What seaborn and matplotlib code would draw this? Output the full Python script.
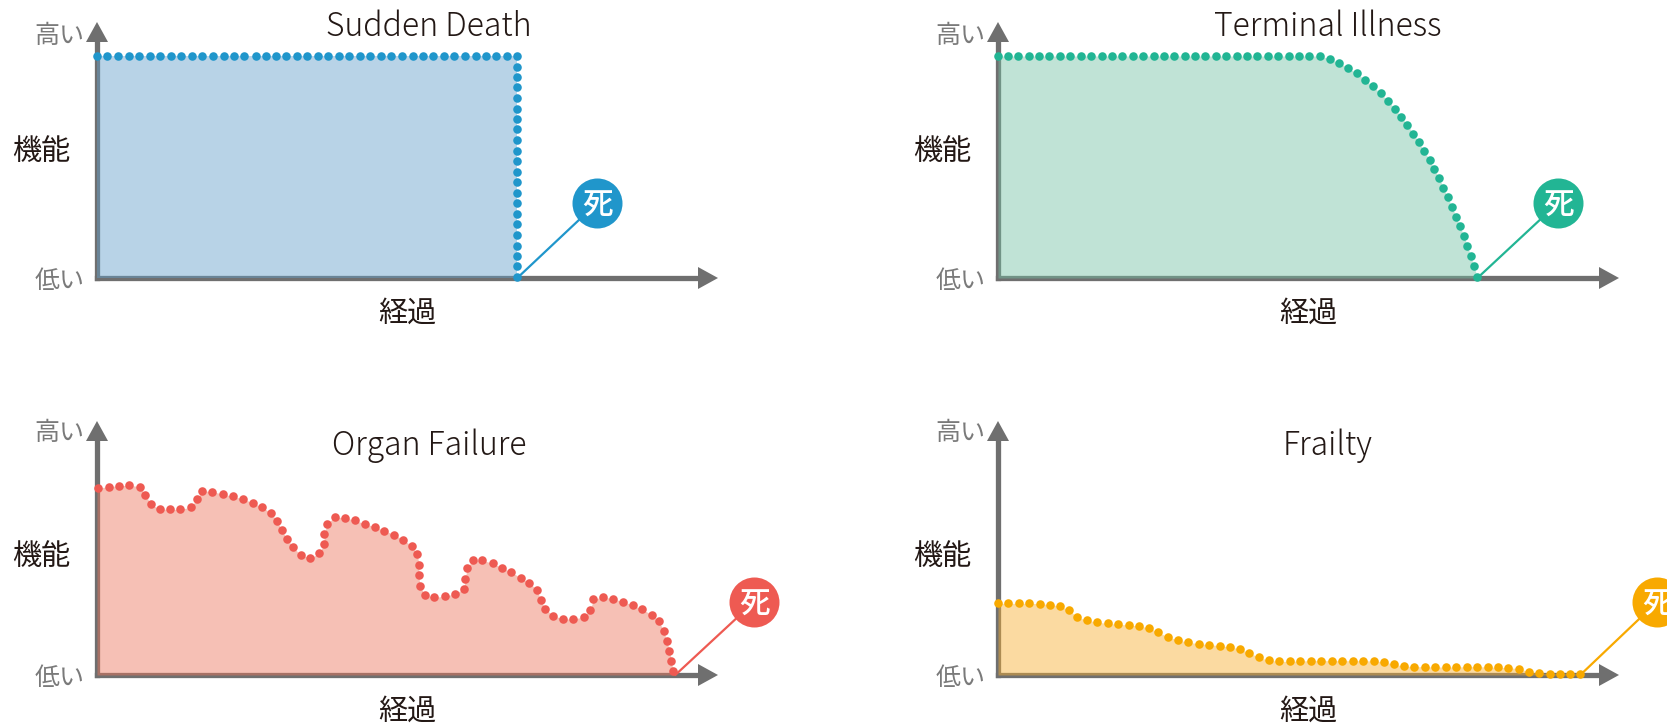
"""Four illness trajectories: function over time up to death."""
import matplotlib
matplotlib.use("Agg")
import matplotlib.pyplot as plt
import numpy as np
import pandas as pd
import seaborn as sns

TITLES = ["Sudden Death", "Terminal Illness", "Organ Failure", "Frailty"]
Y_TICK_LABELS = ["低い", "高い"]
Y_LABEL = "機能"
X_LABEL = "経過"
DEATH_LABEL = "死"

# readings: time along the axis, function above the baseline
SUDDEN_T = [0, 21, 43, 65, 87, 109, 130, 152, 174, 196, 217, 239, 261, 282, 304, 327, 348, 369, 390, 412,
            433, 455, 477, 499, 520, 542, 564, 585, 607, 629, 651, 672, 694, 716, 737, 759, 781, 803, 824, 846,
            867, 867, 867, 867, 867, 867, 867, 867, 867, 867, 867, 867, 867, 867, 867, 867, 867, 867, 867, 867,
            867, 867]
SUDDEN_F = [666] * 41 + [634, 603, 572, 540, 507, 476, 446, 415, 382, 351, 319, 287, 255, 225, 193, 161, 129,
                         97, 66, 35, 3]

TERMINAL_T = [0, 20, 41, 63, 84, 105, 127, 148, 169, 191, 212, 233, 254, 276, 297, 318, 339, 360, 382, 403,
              424, 445, 466, 488, 509, 530, 551, 573, 594, 615, 636, 658, 678, 697, 715, 733, 750, 766, 782, 797,
              811, 824, 837, 849, 860, 871, 882, 892, 902, 910, 919, 928, 936, 944, 952, 959, 966, 972, 980]
TERMINAL_F = [666] * 32 + [657, 646, 631, 614, 595, 575, 554, 531, 508, 483, 458, 433, 407, 381, 354, 326, 299,
                           271, 242, 213, 184, 155, 127, 97, 67, 37, 2]

ORGAN_T = [3, 24, 46, 67, 88, 100, 111, 129, 151, 172, 193, 206, 217, 237, 259, 280, 301, 321, 340, 358,
           371, 381, 392, 405, 420, 440, 459, 468, 469, 475, 490, 511, 532, 553, 573, 593, 613, 632, 649, 661,
           664, 664, 666, 676, 696, 717, 739, 757, 760, 763, 775, 795, 816, 836, 855, 874, 892, 908, 915, 925,
           941, 962, 983, 1004, 1018, 1024, 1043, 1064, 1085, 1105, 1125, 1144, 1159, 1169, 1175, 1181, 1185, 1188]
ORGAN_F = [561, 565, 568, 569, 565, 540, 512, 498, 497, 497, 503, 527, 553, 550, 543, 536, 528, 517, 504, 487,
           463, 435, 408, 383, 360, 351, 365, 393, 424, 454, 474, 472, 464, 453, 445, 433, 421, 406, 387, 362,
           330, 299, 268, 240, 233, 236, 244, 259, 289, 320, 344, 344, 335, 322, 308, 292, 276, 255, 225, 198,
           178, 168, 168, 174, 196, 227, 234, 229, 220, 210, 197, 181, 161, 133, 103, 73, 42, 12]

FRAILTY_T = [0, 20, 42, 64, 85, 107, 127, 146, 162, 181, 203, 224, 246, 267, 288, 309, 328, 347, 368, 389,
             410, 432, 453, 474, 495, 514, 533, 553, 575, 596, 618, 639, 660, 682, 703, 725, 746, 768, 788, 809,
             830, 851, 872, 894, 915, 937, 958, 979, 1001, 1022, 1043, 1064, 1085, 1105, 1128, 1148, 1170, 1190]
FRAILTY_F = [215, 215, 215, 215, 214, 211, 207, 194, 173, 165, 158, 155, 152, 150, 147, 141, 128, 114, 105, 98,
             94, 91, 88, 84, 78, 66, 53, 44, 41, 41, 42, 43, 43, 43, 43, 43, 43, 42, 40, 32,
             27, 25, 25, 24, 24, 24, 25, 25, 24, 23, 22, 19, 10, 6, 4, 4, 4, 4]

SERIES_T = [SUDDEN_T, TERMINAL_T, ORGAN_T, FRAILTY_T]
SERIES_F = [SUDDEN_F, TERMINAL_F, ORGAN_F, FRAILTY_F]
DEATH_T = [867, 980, 1193, 1193]
DEATH_F = [0, 0, 0, 4]

DOT_COLORS = ["#2096cb", "#22b594", "#ee5a52", "#f8a900"]
# drawn at alpha .45 so the axis shows through darker under the fill
FILL_COLORS = ["#639fca", "#75c1a4", "#ed755b", "#f8af30"]
GRAY = "#6f6f6f"
INK = "#231815"

FIG_W, FIG_H = 1667, 724
AXIS_LEFT = [97, 998, 97, 998]
AXIS_BASE = [278, 278, 675, 675]
AXIS_W = 621
AXIS_H = [256, 256, 254, 254]
X_UNITS = [2.063, 2.044, 2.063, 2.044]  # time units per pixel
Y_UNITS = 3.0
BADGE_X = [597, 1558, 754, 1657]
BADGE_Y = [203, 203, 602, 602]
TITLE_X = [0.535, 0.531, 0.535, 0.531]
TITLE_Y = [0.947, 0.947, 0.871, 0.871]
YLABEL_Y = [0.492, 0.492, 0.464, 0.464]
XLABEL_Y = [-0.141, -0.141, -0.146, -0.146]

sns.set_theme(style="white")
plt.rcParams["font.family"] = ["Noto Sans CJK JP", "DejaVu Sans"]


def _draw_panel(fig, i):
    ax = fig.add_axes([
        AXIS_LEFT[i] / FIG_W,
        (FIG_H - AXIS_BASE[i]) / FIG_H,
        AXIS_W / FIG_W,
        AXIS_H[i] / FIG_H,
    ])
    xmax = AXIS_W * X_UNITS[i]
    ymax = AXIS_H[i] * Y_UNITS
    df = pd.DataFrame({"t": SERIES_T[i], "f": SERIES_F[i]})

    fill_t = np.r_[0, df["t"].to_numpy(), DEATH_T[i]]
    fill_f = np.r_[df["f"].iloc[0], df["f"].to_numpy(), 0]
    ax.fill_between(fill_t, 0, fill_f, color=FILL_COLORS[i], alpha=0.45, lw=0, zorder=3)

    sns.scatterplot(data=df, x="t", y="f", color=DOT_COLORS[i], s=38, linewidth=0,
                    clip_on=False, zorder=5, legend=False, ax=ax)

    # leader from the end of the curve to the badge
    badge_t = (BADGE_X[i] - AXIS_LEFT[i]) * X_UNITS[i]
    badge_f = (AXIS_BASE[i] - BADGE_Y[i]) * Y_UNITS
    ax.plot([DEATH_T[i], badge_t], [DEATH_F[i], badge_f], color=DOT_COLORS[i], lw=1.6,
            clip_on=False, zorder=6)
    ax.plot([badge_t], [badge_f], "o", ms=36, mew=0, color=DOT_COLORS[i], clip_on=False, zorder=7)
    ax.text(badge_t, badge_f - 9, DEATH_LABEL, color="white", fontsize=22, fontweight="medium",
            ha="center", va="center", zorder=8)

    ax.set_xlim(0, xmax)
    ax.set_ylim(0, ymax)
    ax.patch.set_alpha(0)

    sns.despine(ax=ax)
    for side, end in (("left", ymax - 50), ("bottom", xmax - 30)):
        ax.spines[side].set_color(GRAY)
        ax.spines[side].set_linewidth(3.8)
        ax.spines[side].set_bounds(0, end)
        ax.spines[side].set_zorder(2)
    head = dict(arrowstyle="-|>,head_length=1.0,head_width=0.55", mutation_scale=14.4,
                color=GRAY, lw=0, shrinkA=0, shrinkB=0)
    ax.annotate("", xy=(xmax, 0), xytext=(xmax - 60, 0), arrowprops=head, annotation_clip=False)
    ax.annotate("", xy=(0, ymax), xytext=(0, ymax - 90), arrowprops=head, annotation_clip=False)

    ax.set_xticks([])
    ax.set_yticks([0, 735], Y_TICK_LABELS, color="#7a7a7a", fontsize=18)
    ax.tick_params(axis="y", length=0, pad=9)

    ax.set_title(TITLES[i], x=TITLE_X[i], y=TITLE_Y[i], fontsize=23, color=INK, va="center",
                 fontweight="light")
    ax.set_xlabel(X_LABEL, fontsize=21, color=INK, va="center")
    ax.xaxis.set_label_coords(0.5, XLABEL_Y[i])
    ax.set_ylabel(Y_LABEL, fontsize=21, color=INK, rotation=0, ha="center", va="center")
    ax.yaxis.set_label_coords(-0.09, YLABEL_Y[i])


def main():
    fig = plt.figure(figsize=(FIG_W / 100, FIG_H / 100), dpi=100)
    for i in range(len(TITLES)):
        _draw_panel(fig, i)
    fig.savefig("out.png", dpi=100)
    plt.close(fig)


if __name__ == "__main__":
    main()
